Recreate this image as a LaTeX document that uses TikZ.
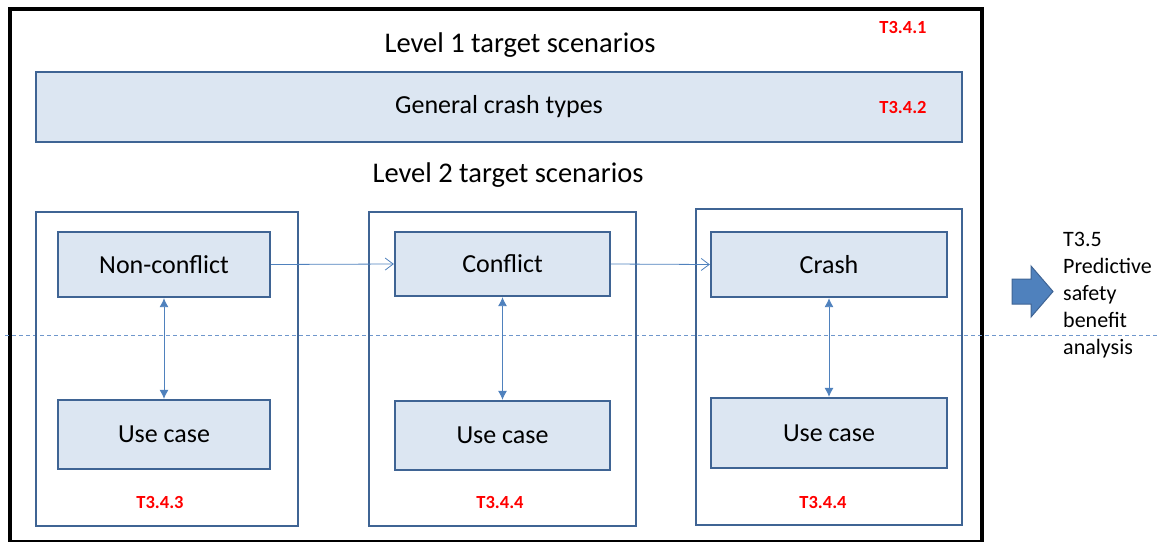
\documentclass[tikz,border=0pt]{standalone}
\usepackage{fontspec}
\setmainfont{Carlito}
\usetikzlibrary{arrows.meta}
\definecolor{boxfill}{HTML}{DCE6F2}
\definecolor{boxline}{HTML}{3F6494}
\definecolor{arrowc}{HTML}{4F81BD}
\definecolor{dashc}{HTML}{6F97CC}
\definecolor{lblred}{HTML}{FF0000}
\tikzset{
  frame/.style={draw=black, line width=3.5pt, inner sep=0pt},
  colbox/.style={draw=boxline, line width=2.3pt, inner sep=0pt},
  bluebox/.style={draw=boxline, fill=boxfill, line width=2.3pt, inner sep=0pt, font=\fontsize{26}{30}\selectfont},
  title/.style={font=\fontsize{28.5}{32}\selectfont, inner sep=0pt},
  redlbl/.style={text=lblred, font=\bfseries\fontsize{18.5}{21}\selectfont, inner sep=0pt},
  flow/.style={draw=arrowc, line width=0.8pt, -{Straight Barb[length=8pt,width=12pt]}},
  link/.style={draw=arrowc, line width=0.9pt, {Latex[length=9pt,width=9pt]}-{Latex[length=9pt,width=9pt]}},
}
\begin{document}
\begin{tikzpicture}[x=1pt,y=-1pt]
\useasboundingbox (0,0) rectangle (1158,541);
% outer frame
\node[frame, minimum width=972pt, minimum height=533pt, anchor=north west] (frame) at (8,7) {};
% titles
\node[title] (l1) at (520,45) {Level 1 target scenarios};
\node[bluebox, minimum width=926pt, minimum height=70pt] (gen) at (499,107) {General crash types};
\node[redlbl] (t341) at (903,27) {T3.4.1};
\node[redlbl] (t342) at (903,107) {T3.4.2};
\node[title] (l2) at (508,175) {Level 2 target scenarios};
% dashed line
\coordinate (dl1) at (5,335);
\coordinate (dl2) at (1158,335);
\draw[dashc, line width=1pt, dash pattern=on 4pt off 3pt] (dl1) -- (dl2);
% column boxes
\node[colbox, minimum width=262pt, minimum height=314pt] (col1) at (167,369) {};
\node[colbox, minimum width=267pt, minimum height=314pt] (col2) at (502.5,369) {};
\node[colbox, minimum width=266pt, minimum height=316pt] (col3) at (829,367) {};
% inner boxes
\node[bluebox, minimum width=212pt, minimum height=65pt] (nc) at (164,264.5) {Non-conflict};
\node[bluebox, minimum width=212pt, minimum height=69pt] (uc1) at (164,434.5) {Use case};
\node[bluebox, minimum width=215pt, minimum height=64pt] (cf) at (502.5,264) {Conflict};
\node[bluebox, minimum width=215pt, minimum height=69pt] (uc2) at (502.5,435.5) {Use case};
\node[bluebox, minimum width=236pt, minimum height=65pt] (cr) at (829,264.5) {Crash};
\node[bluebox, minimum width=236pt, minimum height=70pt] (uc3) at (829,433) {Use case};
% red labels
\node[redlbl] (t343) at (160,502) {T3.4.3};
\node[redlbl] (t344a) at (500,502) {T3.4.4};
\node[redlbl] (t344b) at (823,502) {T3.4.4};
% connectors
\draw[flow] (nc.east) -- (cf.west);
\draw[flow] (cf.east) -- (cr.west);
\draw[link] (nc.south) -- (uc1.north);
\draw[link] (cf.south) -- (uc2.north);
\draw[link] (cr.south) -- (uc3.north);
% block arrow
\draw[draw=boxline, fill=arrowc, line width=1pt, line join=miter]
  (1012,279) -- (1031,279) -- (1031,266) -- (1053,291.5) -- (1031,317) -- (1031,304) -- (1012,304) -- cycle;
% T3.5 text
\node[anchor=north west, align=left, inner sep=0pt, font=\fontsize{22}{27}\selectfont] (t35) at (1063,232)
  {T3.5\\Predictive\\safety\\benefit\\analysis};
\end{tikzpicture}
\end{document}
